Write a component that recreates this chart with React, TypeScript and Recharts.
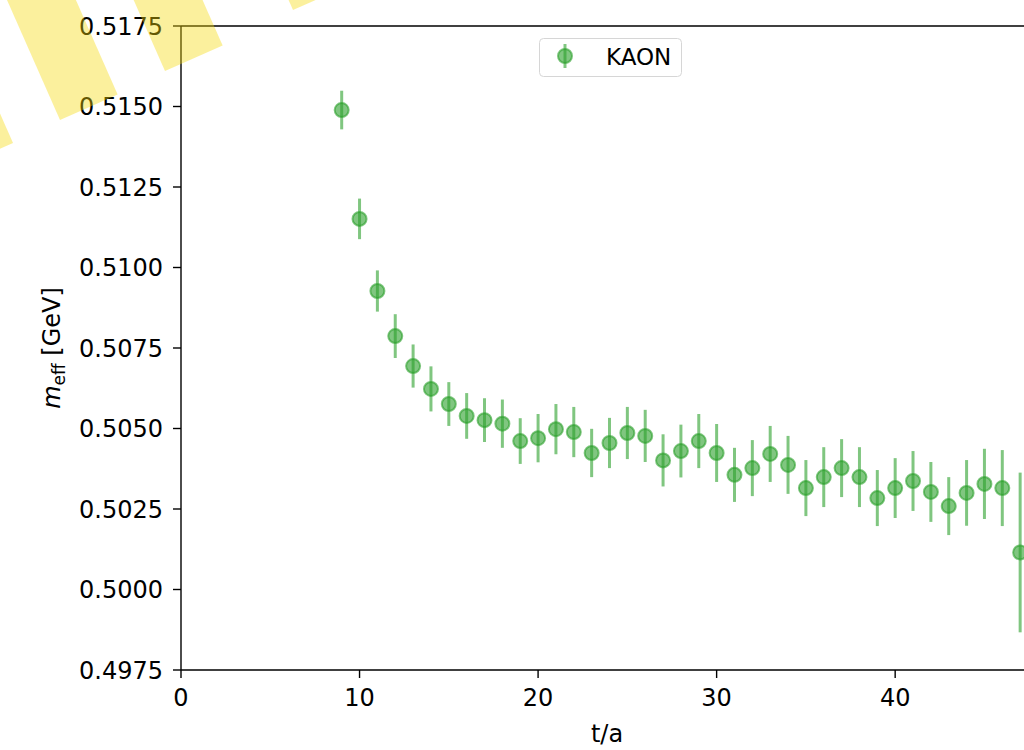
import React from "react";
import {
  ScatterChart,
  Scatter,
  XAxis,
  YAxis,
  ErrorBar,
  ReferenceLine,
  Legend,
  Label,
} from "recharts";

// effective mass plateau
const times = [
  9, 10, 11, 12, 13, 14, 15, 16, 17, 18, 19, 20, 21, 22, 23, 24, 25, 26, 27, 28,
  29, 30, 31, 32, 33, 34, 35, 36, 37, 38, 39, 40, 41, 42, 43, 44, 45, 46, 47,
];
const meff = [
  0.51489, 0.51151, 0.50927, 0.50787, 0.50694, 0.50623, 0.50576, 0.50539,
  0.50526, 0.50515, 0.50461, 0.5047, 0.50498, 0.50489, 0.50424, 0.50455,
  0.50486, 0.50477, 0.50401, 0.5043, 0.50461, 0.50424, 0.50356, 0.50377,
  0.50421, 0.50387, 0.50315, 0.50349, 0.50377, 0.50349, 0.50284, 0.50315,
  0.50337, 0.50303, 0.50259, 0.503, 0.50328, 0.50315, 0.50115,
];
const errors = [
  0.0006, 0.00063, 0.00064, 0.00068, 0.00067, 0.0007, 0.00068, 0.00071,
  0.00068, 0.00075, 0.00071, 0.00075, 0.00078, 0.00078, 0.00075, 0.00078,
  0.00081, 0.00081, 0.00081, 0.00082, 0.00084, 0.0009, 0.00084, 0.00087,
  0.00087, 0.0009, 0.00087, 0.00093, 0.0009, 0.00093, 0.00087, 0.00093,
  0.00093, 0.00093, 0.0009, 0.00102, 0.00109, 0.00118, 0.00248,
];
const xTicks = [0, 10, 20, 30, 40];
const yTicks = [0.4975, 0.5, 0.5025, 0.505, 0.5075, 0.51, 0.5125, 0.515, 0.5175];
const seriesName = "KAON";

const data = times.map((t, i) => ({ t, m: meff[i], err: errors[i] }));

const FONT = "DejaVu Sans";
const GREEN = "#2ca02c";
const ALPHA = 0.6;

const Marker = (props: any) => {
  const { cx, cy } = props;
  if (cx == null || cy == null) return null;
  return (
    <circle
      cx={cx}
      cy={cy}
      r={7}
      fill={GREEN}
      fillOpacity={ALPHA}
      stroke={GREEN}
      strokeOpacity={ALPHA}
      strokeWidth={2}
    />
  );
};

const LegendBox = () => (
  <svg width={143} height={39} style={{ display: "block" }}>
    <rect
      x={0.5}
      y={0.5}
      width={142}
      height={38}
      rx={4}
      fill="rgba(255,255,255,0.8)"
      stroke="#d6d6d6"
    />
    <line x1={26} x2={26} y1={6} y2={30} stroke={GREEN} strokeOpacity={ALPHA} strokeWidth={3} />
    <circle cx={26} cy={18} r={7} fill={GREEN} fillOpacity={ALPHA} stroke={GREEN} strokeOpacity={ALPHA} strokeWidth={2} />
    <text x={67} y={27} fontSize={23} fontFamily={FONT} fill="#000">
      {seriesName}
    </text>
  </svg>
);

const YTitle = () => (
  <text transform="translate(60,348) rotate(-90)" textAnchor="middle" fontFamily={FONT} fontSize={24} fill="#000">
    <tspan fontStyle="italic">m</tspan>
    <tspan fontSize={17} dy={5}>eff</tspan>
    <tspan dy={-5}> [GeV]</tspan>
  </text>
);

const XTitle = () => (
  <text x={607} y={742} textAnchor="middle" fontFamily={FONT} fontSize={24} fill="#000">
    t/a
  </text>
);

// pale yellow diagonal stripes in the upper-left corner
const stripeCorners = [
  [-44.6, 168.5],
  [60, 120],
  [165, 71],
  [293, 10],
];
const stripePath = (bx: number, by: number) => {
  const d = [0.404, 0.915];
  const n = [0.915, -0.404];
  const w = 63;
  const len = 320;
  const p = [
    [bx, by],
    [bx + n[0] * w, by + n[1] * w],
    [bx + n[0] * w - d[0] * len, by + n[1] * w - d[1] * len],
    [bx - d[0] * len, by - d[1] * len],
  ];
  return p.map((q) => q.join(",")).join(" ");
};

export default function App() {
  return (
    <div
      style={{
        position: "absolute",
        left: 0,
        top: 0,
        width: 1024,
        height: 750,
        overflow: "hidden",
        background: "#fff",
      }}
    >
      <ScatterChart
        width={1100}
        height={750}
        margin={{ top: 26, right: 62, bottom: 20, left: 81 }}
        style={{ fontFamily: FONT }}
      >
        <XAxis
          type="number"
          dataKey="t"
          domain={[0, 48]}
          ticks={xTicks}
          allowDataOverflow
          height={60}
          tickSize={8}
          tickMargin={11}
          tick={{ fill: "#000", fontSize: 24, fontFamily: FONT }}
          tickLine={{ stroke: "#000", strokeWidth: 1.4 }}
          axisLine={{ stroke: "#000", strokeWidth: 1.4 }}
        >
          <Label content={<XTitle />} />
        </XAxis>
        <YAxis
          type="number"
          dataKey="m"
          domain={[0.4975, 0.5175]}
          ticks={yTicks}
          allowDataOverflow
          width={100}
          tickSize={8}
          tickMargin={10}
          tickFormatter={(v: number) => v.toFixed(4)}
          tick={{ fill: "#000", fontSize: 24, fontFamily: FONT }}
          tickLine={{ stroke: "#000", strokeWidth: 1.4 }}
          axisLine={{ stroke: "#000", strokeWidth: 1.4 }}
        >
          <Label content={<YTitle />} />
        </YAxis>
        <ReferenceLine y={0.5175} stroke="#000" strokeWidth={1.4} />
        <ReferenceLine x={48} stroke="#000" strokeWidth={1.4} />
        <Legend
          layout="vertical"
          align="center"
          verticalAlign="middle"
          wrapperStyle={{ top: 38, left: 539, width: 143, height: 39 }}
          content={<LegendBox />}
        />
        <Scatter
          name={seriesName}
          data={data}
          shape={<Marker />}
          isAnimationActive={false}
        >
          <ErrorBar
            dataKey="err"
            direction="y"
            width={0}
            stroke={`rgba(44,160,44,${ALPHA})`}
            strokeWidth={3}
            isAnimationActive={false}
          />
        </Scatter>
      </ScatterChart>
      <svg
        width={1024}
        height={750}
        style={{ position: "absolute", left: 0, top: 0, pointerEvents: "none" }}
      >
        {stripeCorners.map(([x, y], i) => (
          <polygon key={i} points={stripePath(x, y)} fill="#f5d90a" fillOpacity={0.4} />
        ))}
      </svg>
    </div>
  );
}
